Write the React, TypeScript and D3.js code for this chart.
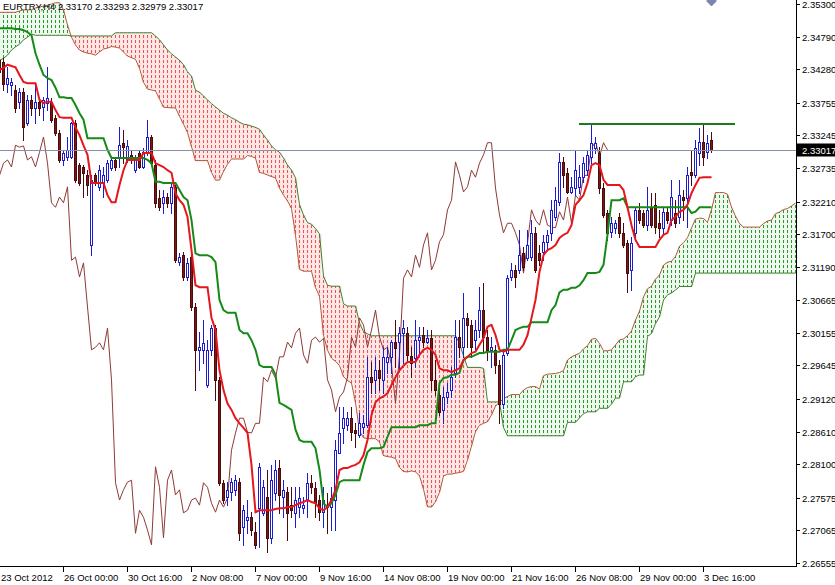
import React, { useEffect } from "react";
import * as d3 from "d3";

const headerText = "EURTRY,H4  2.33170 2.33293 2.32979 2.33017";

const openP = [
2.3442,2.3439,2.3405,2.3403,2.3395,2.3377,2.3392,2.3344,2.3380,2.3367,
2.3377,2.3369,2.3375,2.3377,2.3352,2.3328,2.3286,2.3291,2.3291,2.3344,
2.3278,2.3275,2.3262,2.3153,2.3262,2.3244,2.3250,2.3255,2.3273,2.3286,
2.3291,2.3313,2.3286,2.3294,2.3270,2.3297,2.3275,2.3297,2.3322,2.3278,
2.3226,2.3219,2.3228,2.3219,2.3244,2.3126,2.3137,2.3103,2.3134,2.3056,
2.2989,2.2989,2.2934,2.2989,2.3023,2.2942,2.2781,2.2759,2.2766,2.2770,
2.2782,2.2712,2.2723,2.2727,2.2704,2.2741,2.2734,2.2759,2.2695,2.2765,
2.2804,2.2759,2.2766,2.2746,2.2734,2.2743,2.2741,2.2754,2.2781,2.2773,
2.2754,2.2735,2.2746,2.2743,2.2754,2.2828,2.2867,2.2871,2.2882,2.2864,
2.2856,2.2868,2.2871,2.2946,2.2942,2.2957,2.2942,2.2970,2.2978,2.3001,
2.3001,2.3015,2.3015,2.2979,2.2976,2.3004,2.3012,2.3001,2.3007,2.2942,
2.2918,2.2895,2.2915,2.2926,2.2953,2.3009,2.2993,2.3039,2.3028,2.3004,
2.3020,2.3051,2.3009,2.2989,2.2989,2.2965,2.2905,2.2984,2.3103,2.3114,
2.3114,2.3140,2.3133,2.3134,2.3172,2.3140,2.3142,2.3158,2.3172,2.3197,
2.3220,2.3283,2.3266,2.3236,2.3242,2.3244,2.3259,2.3270,2.3291,2.3305,
2.3297,2.3242,2.3203,2.3173,2.3180,2.3197,2.3172,2.3156,2.3114,2.3172,
2.3208,2.3203,2.3184,2.3212,2.3216,2.3187,2.3180,2.3205,2.3192,2.3203,
2.3197,2.3228,2.3226,2.3267,2.3262,2.3297,2.3314,2.3298,2.3317];

const highP = [
2.3450,2.3445,2.3431,2.3414,2.3403,2.3399,2.3399,2.3388,2.3388,2.3406,
2.3383,2.3384,2.3431,2.3383,2.3356,2.3333,2.3302,2.3322,2.3345,2.3349,
2.3281,2.3278,2.3270,2.3262,2.3266,2.3278,2.3275,2.3286,2.3291,2.3289,
2.3337,2.3333,2.3317,2.3302,2.3294,2.3302,2.3305,2.3349,2.3325,2.3286,
2.3239,2.3239,2.3234,2.3250,2.3247,2.3140,2.3142,2.3133,2.3142,2.3062,
2.3017,2.3036,2.3004,2.3028,2.3028,2.2946,2.2785,2.2782,2.2788,2.2793,
2.2788,2.2746,2.2754,2.2735,2.2720,2.2812,2.2785,2.2801,2.2809,2.2817,
2.2817,2.2785,2.2774,2.2774,2.2774,2.2774,2.2759,2.2796,2.2793,2.2782,
2.2762,2.2774,2.2765,2.2774,2.2848,2.2899,2.2899,2.2892,2.2899,2.2874,
2.2890,2.2887,2.2978,2.2970,2.2978,2.2973,2.2993,2.2993,2.3004,2.3036,
2.3025,2.3036,2.3025,2.2993,2.3036,2.3025,2.3025,2.3020,2.3020,2.2973,
2.2934,2.2931,2.2937,2.2962,2.3036,2.3036,2.3078,2.3047,2.3036,2.3036,
2.3087,2.3093,2.3020,2.3009,2.2997,2.2973,2.2989,2.3106,2.3125,2.3122,
2.3176,2.3150,2.3176,2.3192,2.3181,2.3153,2.3169,2.3176,2.3223,2.3244,
2.3297,2.3291,2.3273,2.3259,2.3302,2.3278,2.3291,2.3302,2.3344,2.3322,
2.3306,2.3250,2.3208,2.3197,2.3192,2.3203,2.3187,2.3161,2.3165,2.3212,
2.3219,2.3208,2.3244,2.3234,2.3234,2.3208,2.3212,2.3212,2.3255,2.3223,
2.3255,2.3239,2.3275,2.3302,2.3317,2.3336,2.3341,2.3325,2.33293];

const lowP = [
2.3411,2.3395,2.3392,2.3388,2.3361,2.3367,2.3317,2.3341,2.3356,2.3344,
2.3356,2.3349,2.3364,2.3345,2.3325,2.3283,2.3278,2.3286,2.3289,2.3251,
2.3247,2.3228,2.3231,2.3137,2.3247,2.3239,2.3228,2.3251,2.3270,2.3270,
2.3275,2.3281,2.3283,2.3281,2.3267,2.3273,2.3273,2.3294,2.3278,2.3212,
2.3208,2.3203,2.3212,2.3203,2.3126,2.3122,2.3098,2.3098,2.3051,2.2926,
2.2957,2.2968,2.2931,2.2981,2.2910,2.2777,2.2749,2.2746,2.2754,2.2762,
2.2691,2.2684,2.2702,2.2699,2.2679,2.2680,2.2731,2.2673,2.2687,2.2754,
2.2734,2.2727,2.2691,2.2727,2.2712,2.2727,2.2734,2.2727,2.2765,2.2727,
2.2723,2.2712,2.2702,2.2707,2.2707,2.2828,2.2843,2.2864,2.2848,2.2837,
2.2853,2.2859,2.2868,2.2921,2.2921,2.2926,2.2921,2.2953,2.2953,2.2962,
2.2957,2.2968,2.2973,2.2946,2.2962,2.2984,2.2993,2.3000,2.2926,2.2918,
2.2887,2.2874,2.2906,2.2915,2.2946,2.2978,2.2978,2.2993,2.2978,2.2989,
2.3009,2.2984,2.2973,2.2962,2.2953,2.2874,2.2898,2.2981,2.3098,2.3087,
2.3109,2.3114,2.3129,2.3129,2.3111,2.3122,2.3129,2.3145,2.3161,2.3192,
2.3216,2.3244,2.3234,2.3234,2.3231,2.3234,2.3251,2.3262,2.3281,2.3297,
2.3234,2.3197,2.3161,2.3165,2.3172,2.3165,2.3150,2.3079,2.3083,2.3165,
2.3187,2.3181,2.3176,2.3181,2.3172,2.3165,2.3172,2.3187,2.3184,2.3181,
2.3187,2.3192,2.3181,2.3247,2.3259,2.3278,2.3278,2.3289,2.32979];

const closeP = [
2.3424,2.3405,2.3414,2.3408,2.3367,2.3392,2.3337,2.3380,2.3367,2.3377,
2.3367,2.3380,2.3383,2.3349,2.3328,2.3286,2.3297,2.3302,2.3344,2.3255,
2.3250,2.3266,2.3247,2.3255,2.3250,2.3270,2.3262,2.3281,2.3286,2.3275,
2.3309,2.3306,2.3308,2.3286,2.3291,2.3275,2.3298,2.3322,2.3281,2.3219,
2.3212,2.3228,2.3219,2.3244,2.3129,2.3134,2.3103,2.3125,2.3056,2.2989,
2.2993,2.3000,2.2989,2.3023,2.2942,2.2781,2.2754,2.2770,2.2782,2.2785,
2.2702,2.2738,2.2727,2.2707,2.2684,2.2806,2.2774,2.2695,2.2785,2.2801,
2.2762,2.2770,2.2734,2.2738,2.2754,2.2757,2.2746,2.2781,2.2774,2.2749,
2.2735,2.2754,2.2743,2.2757,2.2832,2.2859,2.2882,2.2882,2.2860,2.2859,
2.2874,2.2874,2.2946,2.2939,2.2957,2.2945,2.2978,2.2978,2.3001,2.2992,
2.3015,2.3023,2.2981,2.2968,2.3004,2.3009,2.3001,2.3007,2.2942,2.2926,
2.2892,2.2915,2.2923,2.2946,2.3009,2.2993,2.3039,2.3028,2.2993,2.3020,
2.3051,2.3009,2.2989,2.2993,2.2965,2.2905,2.2981,2.3101,2.3114,2.3103,
2.3137,2.3118,2.3153,2.3172,2.3114,2.3129,2.3158,2.3169,2.3208,2.3223,
2.3283,2.3262,2.3236,2.3244,2.3270,2.3259,2.3281,2.3294,2.3313,2.3313,
2.3242,2.3200,2.3172,2.3187,2.3187,2.3172,2.3153,2.3109,2.3156,2.3208,
2.3192,2.3184,2.3208,2.3184,2.3181,2.3180,2.3205,2.3192,2.3228,2.3187,
2.3231,2.3223,2.3262,2.3262,2.3305,2.3314,2.3291,2.3313,2.33017];

const tenkanSen = [
2.3427,2.3430,2.3435,2.3433,2.3431,2.3419,2.3408,2.3406,2.3406,2.3406,
2.3380,2.3375,2.3377,2.3377,2.3364,2.3353,2.3352,2.3352,2.3352,2.3337,
2.3325,2.3309,2.3294,2.3250,2.3250,2.3250,2.3250,2.3231,2.3220,2.3220,
2.3247,2.3270,2.3286,2.3286,2.3286,2.3286,2.3297,2.3297,2.3297,2.3281,
2.3278,2.3275,2.3270,2.3266,2.3234,2.3223,2.3216,2.3197,2.3145,2.3090,
2.3087,2.3087,2.3087,2.3039,2.3020,2.2957,2.2926,2.2905,2.2895,2.2882,
2.2874,2.2867,2.2859,2.2809,2.2735,2.2738,2.2738,2.2738,2.2738,2.2740,
2.2741,2.2741,2.2743,2.2743,2.2746,2.2749,2.2751,2.2754,2.2751,2.2749,
2.2741,2.2738,2.2743,2.2754,2.2770,2.2801,2.2804,2.2804,2.2807,2.2809,
2.2813,2.2824,2.2848,2.2887,2.2907,2.2913,2.2916,2.2921,2.2934,2.2946,
2.2957,2.2964,2.2970,2.2970,2.2970,2.2981,2.2989,2.2992,2.2989,2.2981,
2.2960,2.2957,2.2957,2.2954,2.2957,2.2960,2.2973,2.2978,2.2984,2.2986,
2.2997,2.3007,2.3025,2.3028,2.3012,2.2989,2.2986,2.2989,2.2989,2.2989,
2.2989,2.2997,2.3012,2.3039,2.3067,2.3111,2.3137,2.3145,2.3148,2.3153,
2.3164,2.3169,2.3172,2.3184,2.3216,2.3223,2.3231,2.3250,2.3278,2.3281,
2.3278,2.3255,2.3247,2.3247,2.3247,2.3247,2.3239,2.3212,2.3184,2.3161,
2.3150,2.3150,2.3150,2.3150,2.3150,2.3161,2.3169,2.3172,2.3192,2.3197,
2.3205,2.3208,2.3216,2.3234,2.3247,2.3258,2.3259,2.3259,2.3259];

const kijunSen = [
2.3492,2.3492,2.3492,2.3492,2.3491,2.3491,2.3489,2.3486,2.3481,2.3453,
2.3435,2.3419,2.3414,2.3411,2.3399,2.3384,2.3384,2.3383,2.3383,2.3372,
2.3359,2.3349,2.3320,2.3320,2.3320,2.3320,2.3320,2.3302,2.3289,2.3289,
2.3289,2.3289,2.3289,2.3289,2.3289,2.3289,2.3289,2.3286,2.3281,2.3252,
2.3252,2.3250,2.3250,2.3250,2.3250,2.3239,2.3228,2.3223,2.3192,2.3140,
2.3137,2.3137,2.3137,2.3134,2.3126,2.3067,2.3051,2.3047,2.3047,2.3047,
2.3020,2.3015,2.3015,2.3004,2.2989,2.2965,2.2962,2.2962,2.2962,2.2950,
2.2906,2.2903,2.2899,2.2895,2.2864,2.2848,2.2845,2.2845,2.2845,2.2835,
2.2801,2.2749,2.2743,2.2749,2.2762,2.2782,2.2785,2.2785,2.2785,2.2785,
2.2785,2.2809,2.2829,2.2835,2.2835,2.2835,2.2837,2.2853,2.2868,2.2868,
2.2868,2.2868,2.2868,2.2868,2.2868,2.2871,2.2871,2.2871,2.2874,2.2874,
2.2937,2.2945,2.2946,2.2950,2.2950,2.2953,2.2973,2.2978,2.2978,2.2981,
2.2984,2.2984,2.2986,2.2986,2.2986,2.2986,2.2989,2.2989,2.3004,2.3020,
2.3023,2.3025,2.3025,2.3032,2.3032,2.3032,2.3032,2.3032,2.3051,2.3059,
2.3079,2.3083,2.3083,2.3086,2.3086,2.3090,2.3098,2.3109,2.3109,2.3109,
2.3111,2.3122,2.3169,2.3223,2.3223,2.3223,2.3226,2.3212,2.3212,2.3212,
2.3212,2.3212,2.3212,2.3212,2.3212,2.3212,2.3212,2.3212,2.3212,2.3212,
2.3212,2.3212,2.3212,2.3203,2.3205,2.3212,2.3212,2.3212,2.3212];

const senkouSpanA = [
2.3517,2.3517,2.3517,2.3517,2.3517,2.3519,2.3521,2.3521,2.3521,2.3524,
2.3525,2.3527,2.3528,2.3530,2.3532,2.3532,2.3521,2.3497,2.3478,2.3466,
2.3458,2.3455,2.3453,2.3452,2.3450,2.3455,
2.34595,2.3461,2.34635,2.34625,2.3461,2.3455,2.34485,2.3446,2.34435,2.34295,
2.34075,2.3397,2.33955,2.3394,2.33815,2.33685,2.3368,2.33675,2.33675,2.33545,
2.3342,2.3329,2.3307,2.3285,2.3285,2.3285,2.3285,2.32665,2.32545,2.32545,
2.3268,2.32795,2.32875,2.32875,2.32875,2.32875,2.3293,2.32915,2.3289,2.32665,
2.3265,2.32625,2.3260,2.3258,2.3242,2.3231,2.3222,2.3210,2.31685,2.3115,
2.3112,2.3112,2.3112,2.30865,2.3073,2.3012,2.29885,2.2976,2.2971,2.29645,
2.2947,2.2941,2.2937,2.29065,2.2862,2.28515,2.2850,2.2850,2.2850,2.2845,
2.28235,2.2822,2.2821,2.2819,2.2805,2.27985,2.2798,2.27995,2.2798,2.2792,
2.2771,2.27435,2.2743,2.27515,2.2766,2.27915,2.27945,2.27945,2.2796,2.2797,
2.2799,2.28165,2.28385,2.2861,2.2871,2.2874,2.28765,2.2887,2.2901,2.2907,
2.29125,2.2916,2.2919,2.2919,2.2919,2.2926,2.2930,2.29315,2.29315,2.29275,
2.29485,2.2951,2.29515,2.2952,2.29535,2.29565,2.2973,2.2978,2.2981,2.29835,
2.29905,2.29955,2.30055,2.3007,2.2999,2.29875,2.29875,2.2989,2.29965,2.30045,
2.3006,2.3011,2.30185,2.30355,2.30495,2.30715,2.30845,2.30885,2.30995,2.3106,
2.31215,2.3126,2.31275,2.3135,2.3151,2.31565,2.31645,2.31795,2.31935,2.3195,
2.31945,2.31885,2.3208,2.3235,2.3235,2.3235,2.32325,2.3212,2.3198,2.31865,
2.3181,2.3181,2.3181,2.3181,2.3181,2.31865,2.31905,2.3192,2.3202,2.32045,
2.32085,2.3210,2.3214,2.32185];

const senkouSpanB = [
2.3442,2.3445,2.3450,2.3458,2.3463,2.3467,2.3474,2.3478,2.3483,2.3481,
2.3481,2.3481,2.3481,2.3481,2.3481,2.3481,2.3481,2.3481,2.3480,2.3480,
2.3480,2.3480,2.3480,2.3480,2.3480,2.3480,2.3480,2.3480,2.3480,2.3485,
2.3485,2.3485,2.3485,2.3485,2.3485,2.3485,2.3485,2.3485,2.3485,2.3480,
2.3474,2.3466,2.3458,2.3452,2.3447,2.3442,2.3435,2.3424,2.3417,2.3395,
2.3392,2.3386,2.3380,2.3374,2.3369,2.3364,2.3359,2.3356,2.3352,2.3349,
2.3345,2.3342,2.3341,2.3339,2.3337,2.3334,2.3325,2.3317,2.3308,2.3302,
2.3298,2.3289,2.3278,2.3270,2.3258,2.3216,2.3200,2.3188,2.31855,2.31785,
2.31705,2.3104,2.3090,2.30885,2.30885,2.30885,2.3061,2.30575,2.30575,2.30575,
2.3031,2.30175,2.3014,2.3011,2.3011,2.3011,2.3011,2.3011,2.3011,2.3011,
2.3011,2.3011,2.3011,2.3011,2.3011,2.3011,2.3011,2.3011,2.3011,2.3011,
2.3011,2.3011,2.3011,2.3011,2.3011,2.2999,2.29795,2.29615,2.29615,2.29615,
2.29615,2.2960,2.29075,2.29075,2.29075,2.29075,2.28675,2.28545,2.28545,2.28545,
2.28545,2.28545,2.28545,2.28545,2.28545,2.28545,2.28545,2.28545,2.28545,2.28545,
2.28545,2.28545,2.28755,2.28755,2.28755,2.28825,2.2889,2.2892,2.2892,2.2892,
2.28975,2.28975,2.28975,2.2904,2.29135,2.29135,2.2939,2.2939,2.2939,2.2947,
2.29495,2.29495,2.3010,2.30145,2.3030,2.30405,2.3067,2.3075,2.3078,2.30825,
2.3088,2.3088,2.3088,2.3088,2.3109,2.3109,2.3109,2.3109,2.3109,2.3109,
2.3109,2.3109,2.3109,2.3109,2.3109,2.3109,2.3109,2.3109,2.3109,2.3109,
2.3109,2.3109,2.3109,2.3109,2.3109,2.3109,2.3109,2.3109,2.3109,2.3109];

const chikouShift = 26;

const priceTickLabels = ["2.35300","2.34790","2.34280","2.33755","2.33245","2.32735","2.32210","2.31700","2.31190","2.30665","2.30155","2.29645","2.29120","2.28610","2.28100","2.27575","2.27065","2.26555"];
const timeTickLabels = ["23 Oct 2012","26 Oct 00:00","30 Oct 16:00","2 Nov 08:00","7 Nov 00:00","9 Nov 16:00","14 Nov 08:00","19 Nov 00:00","21 Nov 16:00","26 Nov 08:00","29 Nov 00:00","3 Dec 16:00"];
const timeTickBars = [0,16,32,48,64,80,96,112,128,144,160,176];

const lastPriceLabel = "2.33017";
const lastPrice = 2.33017;
const resistanceLevel = 2.3342;
const resistanceStartBar = 145;
const resistanceEndBar = 184;

const W = 835;
const H = 585;
const PLOT_R = 796;
const PLOT_B = 566;
const FONT = "'Liberation Sans', Arial, sans-serif";

export default function App() {
  useEffect(() => {
    document.body.style.margin = "0";
  }, []);

  const x = d3.scaleLinear().domain([0, 200]).range([-1, 799]);
  const y = d3.scaleLinear().domain([2.26555, 2.353]).range([563, 4]);
  const cx = (i: number) => Math.round(x(i)) + 0.5;
  const ry = (v: number) => Math.round(y(v));

  const line = d3.line<[number, number]>().x((d) => d[0]).y((d) => d[1]);

  const tenkanPath = line(tenkanSen.map((v, i) => [cx(i), y(v)] as [number, number]));
  const kijunPath = line(kijunSen.map((v, i) => [cx(i), y(v)] as [number, number]));
  const spanAPath = line(senkouSpanA.map((v, i) => [cx(i), y(v)] as [number, number]));
  const spanBPath = line(senkouSpanB.map((v, i) => [cx(i), y(v)] as [number, number]));
  const chikouPath = line(
    closeP.slice(chikouShift).map((v, i) => [cx(i), y(v)] as [number, number])
  );

  const cloudTint = senkouSpanA.map((a, j) => {
    const b = senkouSpanB[j];
    const ya = y(a);
    const yb = y(b);
    const top = Math.min(ya, yb);
    const bot = Math.max(ya, yb);
    const bull = a >= b;
    return (
      <rect
        key={"t" + j}
        x={cx(j) - 2}
        y={top}
        width={4}
        height={bot - top}
        fill={bull ? "#eef7ee" : "#fbe4e4"}
      />
    );
  });

  const cloudCols = senkouSpanA.map((a, j) => {
    const b = senkouSpanB[j];
    const ya = ry(a);
    const yb = ry(b);
    const top = Math.min(ya, yb);
    const bot = Math.max(ya, yb);
    const bull = a >= b;
    return (
      <line
        key={"c" + j}
        x1={cx(j)}
        x2={cx(j)}
        y1={top}
        y2={bot}
        stroke={bull ? "#2a9a2a" : "#f25454"}
        strokeWidth={1}
        strokeDasharray="3,2"
        strokeDashoffset={top % 5}
      />
    );
  });

  const candles = openP.map((o, i) => {
    const c = closeP[i];
    const hi = highP[i];
    const lo = lowP[i];
    const bull = c >= o;
    const xc = cx(i);
    const yTop = ry(Math.max(o, c)) + 0.5;
    const yBot = ry(Math.min(o, c)) + 0.5;
    const col = bull ? "#1c1cd2" : "#4a0b0b";
    return (
      <g key={"k" + i}>
        <line x1={xc} x2={xc} y1={ry(hi)} y2={ry(lo) + 1} stroke={col} strokeWidth={1} />
        <rect
          x={xc - 1}
          y={yTop}
          width={2}
          height={Math.max(yBot - yTop, 0)}
          fill={bull ? "#ffffff" : "#7d1616"}
          stroke={col}
          strokeWidth={1}
        />
      </g>
    );
  });

  const yLast = ry(lastPrice) + 0.5;
  const yRes = ry(resistanceLevel);

  return (
    <svg
      width={W}
      height={H}
      style={{ position: "absolute", left: 0, top: 0, background: "#fff" }}
      fontFamily={FONT}
    >
      <defs>
        <clipPath id="plotClip">
          <rect x={0} y={0} width={PLOT_R} height={PLOT_B} />
        </clipPath>
      </defs>
      <rect x={0} y={0} width={W} height={H} fill="#ffffff" />
      <g clipPath="url(#plotClip)">
        <g>{cloudTint}</g>
        <g>{cloudCols}</g>
        <path d={spanAPath || ""} fill="none" stroke="#b0583a" strokeWidth={1} />
        <path d={spanBPath || ""} fill="none" stroke="#3f7f2a" strokeWidth={1} />
        <path d={chikouPath || ""} fill="none" stroke="#8e3a36" strokeWidth={1} />
        <g>{candles}</g>
        <path d={kijunPath || ""} fill="none" stroke="#168a16" strokeWidth={2} />
        <path d={tenkanPath || ""} fill="none" stroke="#e5161c" strokeWidth={2} />
        <line x1={0} x2={PLOT_R} y1={yLast} y2={yLast} stroke="#8593a3" strokeWidth={1} />
        <line
          x1={x(resistanceStartBar)}
          x2={x(resistanceEndBar)}
          y1={yRes}
          y2={yRes}
          stroke="#1e7a1e"
          strokeWidth={2}
        />
        <path
          d={`M${cx(178)},-4 l5,5 l-5,5 l-5,-5 Z`}
          fill="#7b86b0"
          stroke="#5a6690"
          strokeWidth={0.5}
        />
      </g>
      <text x={3} y={10} fontSize={9.5} fill="#000">
        {headerText}
      </text>
      <line x1={PLOT_R + 0.5} x2={PLOT_R + 0.5} y1={0} y2={PLOT_B + 1} stroke="#000" strokeWidth={1} />
      <line x1={0} x2={PLOT_R + 1} y1={PLOT_B + 0.5} y2={PLOT_B + 0.5} stroke="#000" strokeWidth={1} />
      {priceTickLabels.map((t) => {
        const yy = ry(+t) + 0.5;
        return (
          <g key={"p" + t}>
            <line x1={PLOT_R + 1} x2={PLOT_R + 4} y1={yy} y2={yy} stroke="#000" strokeWidth={1} />
            <text x={802} y={yy + 3.5} fontSize={9.5} fill="#000">
              {t}
            </text>
          </g>
        );
      })}
      <rect x={PLOT_R + 1} y={yLast - 7} width={W - PLOT_R - 1} height={13} fill="#000" />
      <text x={802} y={yLast + 3.5} fontSize={9.5} fill="#fff">
        {lastPriceLabel}
      </text>
      {timeTickLabels.map((t, k) => {
        const xx = cx(timeTickBars[k]);
        return (
          <g key={"t" + k}>
            {k > 0 && (
              <line x1={xx} x2={xx} y1={PLOT_B + 1} y2={PLOT_B + 6} stroke="#000" strokeWidth={1} />
            )}
            <text x={Math.max(xx + 0.5, 1)} y={581} fontSize={9.5} fill="#000">
              {t}
            </text>
          </g>
        );
      })}
    </svg>
  );
}
